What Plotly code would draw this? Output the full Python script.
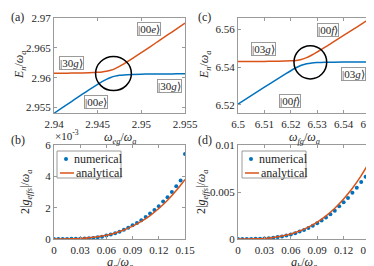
import plotly.graph_objects as go

BLUE = '#0072BD'
RED = '#D95319'
FONT = 'Liberation Serif'
AXC = '#9a9a9a'
TXT = '#262626'

# ---------------- panel (a) ----------------
omega_eg = [2.9400, 2.9410, 2.9420, 2.9430, 2.9440, 2.9450, 2.9455, 2.9460, 2.9465, 2.9470,
            2.9475, 2.9480, 2.9490, 2.9500, 2.9510, 2.9520, 2.9530, 2.9540, 2.9550]
a_upper = [2.96075, 2.96076, 2.96078, 2.96080, 2.96083, 2.96090, 2.96096, 2.96107, 2.96125, 2.96153,
           2.96190, 2.96232, 2.96324, 2.96420, 2.96518, 2.96617, 2.96716, 2.96815, 2.96914]
a_lower = [2.95405, 2.95504, 2.95602, 2.95700, 2.95797, 2.95890, 2.95934, 2.95973, 2.96005, 2.96027,
           2.96040, 2.96048, 2.96056, 2.96060, 2.96062, 2.96063, 2.96064, 2.96065, 2.96066]
a_xticks = [2.94, 2.945, 2.95, 2.955]
a_xticktext = ['2.94', '2.945', '2.95', '2.955']
a_yticks = [2.955, 2.96, 2.965, 2.97]
a_yticktext = ['2.955', '2.96', '2.965', '2.97']
a_circle = (2.94681, 2.96070, 0.00205, 0.00285)  # cx, cy, rx, ry

# ---------------- panel (c) ----------------
omega_fg = [6.500, 6.505, 6.510, 6.515, 6.518, 6.520, 6.522, 6.524, 6.526, 6.528,
            6.530, 6.533, 6.536, 6.540, 6.545, 6.550]
c_upper = [6.54290, 6.54293, 6.54297, 6.54305, 6.54315, 6.54327, 6.54350, 6.54399, 6.54495, 6.54634,
           6.54794, 6.55049, 6.55312, 6.55666, 6.56112, 6.56560]
c_lower = [6.52040, 6.52487, 6.52933, 6.53375, 6.53635, 6.53803, 6.53960, 6.54091, 6.54175, 6.54216,
           6.54236, 6.54251, 6.54258, 6.54264, 6.54268, 6.54270]
c_xticks = [6.5, 6.51, 6.52, 6.53, 6.54, 6.55]
c_xticktext = ['6.5', '6.51', '6.52', '6.53', '6.54', '6.55']
c_yticks = [6.52, 6.54, 6.56]
c_yticktext = ['6.52', '6.54', '6.56']
c_circle = (6.5274, 6.5425, 0.0062, 0.0088)

# ---------------- panel (b) ----------------
g_grid = [0, 0.005, 0.01, 0.015, 0.02, 0.025, 0.03, 0.035, 0.04, 0.045, 0.05, 0.055, 0.06, 0.065,
          0.07, 0.075, 0.08, 0.085, 0.09, 0.095, 0.1, 0.105, 0.11, 0.115, 0.12, 0.125, 0.13, 0.135,
          0.14, 0.145, 0.15]
b_numerical_e3 = [0, 0, 0, 0.005, 0.01, 0.015, 0.02, 0.03, 0.05, 0.07, 0.11, 0.15, 0.22, 0.28,
                  0.37, 0.46, 0.59, 0.72, 0.87, 1.02, 1.20, 1.41, 1.63, 1.85, 2.09, 2.39, 2.67, 3.00,
                  3.37, 3.74, 5.42]
g_line = [0, 0.01, 0.02, 0.03, 0.04, 0.05, 0.06, 0.07, 0.08, 0.09, 0.1, 0.11, 0.12, 0.13, 0.14, 0.15]
b_analytical_e3 = [0, 0.0011, 0.009, 0.030, 0.072, 0.141, 0.243, 0.386, 0.577, 0.821, 1.126, 1.499,
                   1.946, 2.474, 3.090, 3.800]
g_xticks = [0, 0.03, 0.06, 0.09, 0.12, 0.15]
g_xticktext = ['0', '0.03', '0.06', '0.09', '0.12', '0.15']
b_yticks = [0, 2, 4, 6]
b_yticktext = ['0', '2', '4', '6']

# ---------------- panel (d) ----------------
d_numerical = [0, 0, 0.000005, 0.00001, 0.00002, 0.000035, 0.00006, 0.00009, 0.00014, 0.0002,
               0.00027, 0.00036, 0.00047, 0.00061, 0.00079, 0.00097, 0.00118, 0.0014, 0.00168,
               0.00197, 0.00229, 0.00262, 0.00301, 0.00348, 0.00391, 0.00437, 0.00491, 0.00545,
               0.00606, 0.00663, 0.00735]
d_analytical = [0, 0.0000025, 0.0000197, 0.0000664, 0.000157, 0.000308, 0.000531, 0.000844,
                0.00126, 0.001793, 0.00246, 0.003274, 0.00425, 0.0054, 0.00675, 0.0083]
d_yticks = [0, 0.005, 0.01]
d_yticktext = ['0', '0.005', '0.01']

legend_names = ['numerical', 'analytical']

W, H = 374, 266


def px_x(a, b):
    return [a / W, b / W]


def px_y(top, bottom):
    return [1 - bottom / H, 1 - top / H]


fig = go.Figure()

# (a)
fig.add_trace(go.Scatter(x=omega_eg, y=a_upper, mode='lines', line=dict(color=RED, width=1.5, shape='spline'),
                         xaxis='x', yaxis='y', showlegend=False))
fig.add_trace(go.Scatter(x=omega_eg, y=a_lower, mode='lines', line=dict(color=BLUE, width=1.5, shape='spline'),
                         xaxis='x', yaxis='y', showlegend=False))
# (c)
fig.add_trace(go.Scatter(x=omega_fg, y=c_upper, mode='lines', line=dict(color=RED, width=1.5, shape='spline'),
                         xaxis='x2', yaxis='y2', showlegend=False))
fig.add_trace(go.Scatter(x=omega_fg, y=c_lower, mode='lines', line=dict(color=BLUE, width=1.5, shape='spline'),
                         xaxis='x2', yaxis='y2', showlegend=False))
# (b)
fig.add_trace(go.Scatter(x=g_grid, y=b_numerical_e3, mode='markers', name=legend_names[0],
                         marker=dict(color=BLUE, size=4), xaxis='x3', yaxis='y3', showlegend=False))
fig.add_trace(go.Scatter(x=g_line, y=b_analytical_e3, mode='lines', name=legend_names[1],
                         line=dict(color=RED, width=1.5, shape='spline'), xaxis='x3', yaxis='y3', showlegend=False))
# (d)
fig.add_trace(go.Scatter(x=g_grid, y=d_numerical, mode='markers', name=legend_names[0],
                         marker=dict(color=BLUE, size=4), xaxis='x4', yaxis='y4', showlegend=False))
fig.add_trace(go.Scatter(x=g_line, y=d_analytical, mode='lines', name=legend_names[1],
                         line=dict(color=RED, width=1.5, shape='spline'), xaxis='x4', yaxis='y4', showlegend=False))

tickfont = dict(family=FONT, size=11, color=TXT)
titlefont = dict(family=FONT, size=12, color=TXT)


def ax(domain, rng, tv, tt, anchor, lab_gap):
    return dict(domain=domain, range=rng, tickvals=tv, ticktext=tt, showline=True, linecolor=AXC,
                linewidth=1, mirror='ticks', ticks='inside', ticklen=3, tickcolor=AXC, showgrid=False,
                zeroline=False, tickfont=tickfont, anchor=anchor, ticklabelstandoff=lab_gap,
                automargin=False)


top_row = px_y(10, 105)
bot_row = px_y(137, 231)
left_col = px_x(46, 177)
right_col = px_x(230, 362)

fig.update_layout(
    template='none',
    width=W, height=H, margin=dict(l=0, r=0, t=0, b=0, autoexpand=False),
    paper_bgcolor='white', plot_bgcolor='white', showlegend=False,
    font=dict(family=FONT, color=TXT),
    xaxis=ax(left_col, [2.94, 2.955], a_xticks, a_xticktext, 'y', 1),
    yaxis=ax(top_row, [2.9541, 2.97], a_yticks, a_yticktext, 'x', 0),
    xaxis2=ax(right_col, [6.5, 6.55], c_xticks, c_xticktext, 'y2', 1),
    yaxis2=ax(top_row, [6.5157, 6.5659], c_yticks, c_yticktext, 'x2', 0),
    xaxis3=ax(left_col, [0, 0.15], g_xticks, g_xticktext, 'y3', 1),
    yaxis3=ax(bot_row, [0, 6], b_yticks, b_yticktext, 'x3', 0),
    xaxis4=ax(right_col, [0, 0.15], g_xticks, g_xticktext, 'y4', 1),
    yaxis4=ax(bot_row, [0, 0.01], d_yticks, d_yticktext, 'x4', 0),
)

# axis titles
xtitles = [('<i>ω<sub>eg</sub></i>/<i>ω<sub>a</sub></i>', 111.5, 130),
           ('<i>ω<sub>fg</sub></i>/<i>ω<sub>a</sub></i>', 296, 130),
           ('<i>g<sub>a</sub></i>/<i>ω<sub>a</sub></i>', 111.5, 255),
           ('<i>g<sub>b</sub></i>/<i>ω<sub>a</sub></i>', 296, 255)]
for t, x, y in xtitles:
    fig.add_annotation(text=t, x=x / W, y=1 - y / H, xref='paper', yref='paper', xanchor='center',
                       yanchor='middle', showarrow=False, font=titlefont)
ytitles = [('<i>E<sub>n</sub></i>/<i>ω<sub>a</sub></i>', 12, 57),
           ('<i>E<sub>n</sub></i>/<i>ω<sub>a</sub></i>', 197, 57),
           ('2|<i>g<sub>effs</sub></i>|/<i>ω<sub>a</sub></i>', 18, 184),
           ('2|<i>g<sub>effs</sub></i>|/<i>ω<sub>a</sub></i>', 194, 184)]
for t, x, y in ytitles:
    fig.add_annotation(text=t, x=x / W, y=1 - y / H, xref='paper', yref='paper', xanchor='center',
                       yanchor='middle', textangle=-90, showarrow=False, font=titlefont)

# avoided-crossing circles
for (cx, cy, rx, ry), xr, yr in [(a_circle, 'x', 'y'), (c_circle, 'x2', 'y2')]:
    fig.add_shape(type='circle', xref=xr, yref=yr, x0=cx - rx, x1=cx + rx, y0=cy - ry, y1=cy + ry,
                  line=dict(color='black', width=1.5))

ketfont = dict(family=FONT, size=11, color=TXT)
kets = [
    ('|00<i>e</i>⟩', 2.95088, 2.96813, 'x', 'y'),
    ('|30<i>g</i>⟩', 2.94206, 2.96251, 'x', 'y'),
    ('|30<i>g</i>⟩', 2.95317, 2.95860, 'x', 'y'),
    ('|00<i>e</i>⟩', 2.94481, 2.95587, 'x', 'y'),
    ('|00<i>f</i>⟩', 6.5342, 6.5598, 'x2', 'y2'),
    ('|03<i>g</i>⟩', 6.5098, 6.5495, 'x2', 'y2'),
    ('|03<i>g</i>⟩', 6.5437, 6.5362, 'x2', 'y2'),
    ('|00<i>f</i>⟩', 6.5196, 6.5223, 'x2', 'y2'),
]
for t, x, y, xr, yr in kets:
    fig.add_annotation(text=t, x=x, y=y, xref=xr, yref=yr, showarrow=False, font=ketfont,
                       bgcolor='white', bordercolor=AXC, borderwidth=1, borderpad=0)

labels = [('(a)', 1, 9), ('(c)', 188, 9), ('(b)', 1, 132), ('(d)', 188, 132)]
for t, x, y in labels:
    fig.add_annotation(text=t, x=x / W, y=1 - y / H, xref='paper', yref='paper', xanchor='left',
                       yanchor='middle', showarrow=False, font=dict(family=FONT, size=12, color=TXT))

fig.add_annotation(text='×10<sup>-3</sup>', x=45 / W, y=1 - 136 / H, xref='paper', yref='paper',
                   xanchor='left', yanchor='bottom', showarrow=False, font=dict(family=FONT, size=11, color=TXT))

# custom legends (box, symbols, labels) for (b) and (d)
for x0 in (49, 234):
    fig.add_shape(type='rect', xref='paper', yref='paper', x0=x0 / W, x1=(x0 + 64) / W,
                  y0=1 - 170 / H, y1=1 - 143 / H, line=dict(color=AXC, width=1), fillcolor='white', layer='above')
    fig.add_shape(type='circle', xref='paper', yref='paper', x0=(x0 + 7) / W, x1=(x0 + 11) / W,
                  y0=1 - 153 / H, y1=1 - 149 / H, line=dict(color=BLUE, width=0), fillcolor=BLUE, layer='above')
    fig.add_shape(type='line', xref='paper', yref='paper', x0=(x0 + 3) / W, x1=(x0 + 17) / W,
                  y0=1 - 165 / H, y1=1 - 165 / H, line=dict(color=RED, width=1.5), layer='above')
    fig.add_annotation(text=legend_names[0], x=(x0 + 15) / W, y=1 - 151 / H, xref='paper', yref='paper',
                       xanchor='left', yanchor='middle', showarrow=False, font=dict(family=FONT, size=12, color=TXT))
    fig.add_annotation(text=legend_names[1], x=(x0 + 17) / W, y=1 - 165 / H, xref='paper', yref='paper',
                       xanchor='left', yanchor='middle', showarrow=False, font=dict(family=FONT, size=12, color=TXT))

fig.write_html('out.html')
